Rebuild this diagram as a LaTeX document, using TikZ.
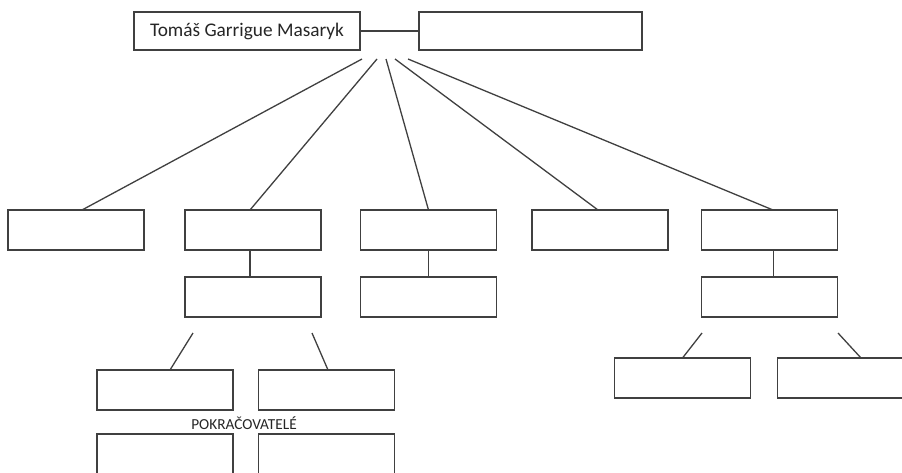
\documentclass[tikz,border=0pt]{standalone}
\usepackage{fontspec}
\setmainfont{Carlito}
\usetikzlibrary{positioning}

\begin{document}
\begin{tikzpicture}[
  x=1pt, y=1pt, line width=1.3pt, draw=black!75,
  every node/.style={inner sep=0pt, outer sep=0pt},
  box node/.style={rectangle, draw=black!75, fill=white, minimum width=136pt, minimum height=40pt},
  root node/.style={rectangle, draw=black!75, minimum width=226pt, minimum height=38pt,
    font=\fontsize{19.3}{22}\selectfont, text=black!85},
  wife node/.style={rectangle, draw=black!75, minimum width=223pt, minimum height=38pt},
  caption node/.style={font=\fontsize{15.3}{18}\selectfont, text=black!85}
]
\clip (0,0) rectangle (902,-472);
\fill[white] (0,0) rectangle (902,-472);

\node[root node] (tgm) at (247,-31) {Tomáš Garrigue Masaryk};
\node[wife node] (wife) at (530.5,-31) {};
\draw (tgm.east) -- (wife.west);

\node[box node] (a1) at (76,-230) {};
\node[box node] (a2) at (253,-230) {};
\node[box node] (a3) at (428.5,-230) {};
\node[box node] (a4) at (600,-230) {};
\node[box node] (a5) at (769.5,-230) {};

\node[box node] (b2) at (253,-297) {};
\node[box node] (b3) at (428.5,-297) {};
\node[box node] (b5) at (769.5,-297) {};

\node[box node] (c1) at (165,-390) {};
\node[box node] (c2) at (326.5,-390) {};
\node[caption node] (pokr) at (244,-423) {POKRAČOVATELÉ};
\node[box node] (d1) at (165,-454) {};
\node[box node] (d2) at (326.5,-454) {};

\node[box node] (g1) at (682.5,-378) {};
\node[box node] (g2) at (845.5,-378) {};

\coordinate (f1) at (362,-59);
\coordinate (f2) at (377,-59);
\coordinate (f3) at (386,-59);
\coordinate (f4) at (395,-59);
\coordinate (f5) at (408,-59);
\draw (f1) -- ([xshift=6pt]a1.north);
\draw (f2) -- ([xshift=-3pt]a2.north);
\draw (f3) -- (a3.north);
\draw (f4) -- ([xshift=-2pt]a4.north);
\draw (f5) -- ([xshift=3.5pt]a5.north);

\draw ([xshift=-3pt]a2.south) -- ([xshift=-3pt]b2.north);
\draw (a3.south) -- (b3.north);
\draw ([xshift=4pt]a5.south) -- ([xshift=4pt]b5.north);

\coordinate (s1) at (193,-333);
\coordinate (s2) at (312,-333);
\coordinate (s3) at (702,-333);
\coordinate (s4) at (838,-333);
\draw (s1) -- ([xshift=5pt]c1.north);
\draw (s2) -- ([xshift=1.5pt]c2.north);
\draw (s3) -- (g1.north);
\draw (s4) -- ([xshift=15.5pt]g2.north);
\end{tikzpicture}
\end{document}
